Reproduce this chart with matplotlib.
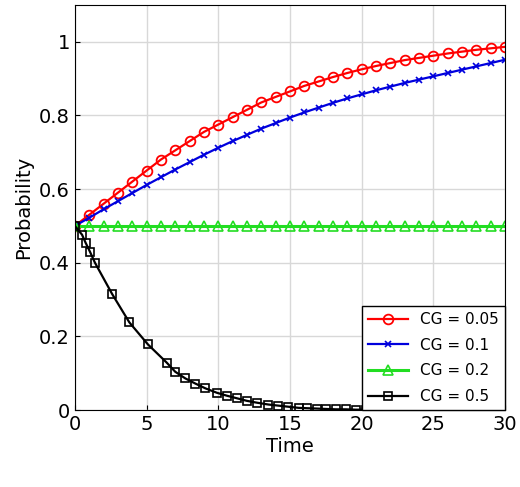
import matplotlib
matplotlib.use("Agg")
import matplotlib.pyplot as plt

t_int = list(range(31))
red = [0.5,0.53,0.56,0.59,0.62,0.65,0.68,0.705,0.73,0.755,0.775,0.795,0.815,0.835,0.85,0.865,0.88,0.892,0.904,0.915,0.925,0.934,0.942,0.95,0.956,0.962,0.968,0.973,0.978,0.982,0.986]
blue = [0.5,0.522,0.545,0.567,0.589,0.611,0.632,0.653,0.673,0.693,0.712,0.73,0.747,0.764,0.779,0.794,0.808,0.821,0.834,0.846,0.857,0.868,0.878,0.888,0.897,0.906,0.915,0.924,0.933,0.942,0.951]
green = [0.5]*31
t_black = [0,0.5,0.75,1.05,1.4,2.6,3.8,5.1,6.4,7.0,7.7,8.4,9.1,9.9,10.6,11.3,12.0,12.7,13.5,14.2,14.9,15.6,16.2,16.9,17.5,18.2,18.9,19.6,20.3,21.0,21.7,22.4,23.1,23.8,24.5,25.2,25.9,26.6,27.3,28.0,28.7,29.4,30.0]
black = [0.5,0.476,0.454,0.43,0.40,0.315,0.238,0.178,0.129,0.104,0.086,0.072,0.059,0.047,0.039,0.032,0.025,0.02,0.015,0.012,0.009,0.006,0.005,0.004,0.003,0.002,0.002,0.001,0.001,0.001,0.001,0,0,0,0,0,0,0,0,0,0,0,0]

fig = plt.figure(figsize=(5.2,4.87), dpi=100)
ax = fig.add_axes([0.144,0.158,0.827,0.832])
ax.plot(t_int, red, '-o', color='red', mfc='none', ms=7, lw=1.6, mew=1.3, label='CG = 0.05')
ax.plot(t_int, blue, '-x', color='#0000dd', ms=5, lw=1.6, mew=1.2, label='CG = 0.1')
ax.plot(t_int, green, '-^', color='#22dd22', mfc='none', ms=7, lw=2.2, mew=1.2, label='CG = 0.2')
ax.plot(t_black, black, '-s', color='black', mfc='none', ms=6, lw=1.6, mew=1.2, label='CG = 0.5')
ax.set_xlim(0,30); ax.set_ylim(0,1.1)
ax.set_xticks([0,5,10,15,20,25,30])
ax.set_yticks([0,0.2,0.4,0.6,0.8,1])
ax.set_yticklabels(['0','0.2','0.4','0.6','0.8','1'])
ax.tick_params(labelsize=14, direction='in')
ax.grid(True, color='#d8d8d8', lw=1)
ax.set_xlabel('Time', fontsize=14, labelpad=2)
ax.set_ylabel('Probability', fontsize=14)
leg = ax.legend(loc='lower right', fontsize=11, fancybox=False, edgecolor='black', framealpha=1, borderaxespad=0, handlelength=2.6, labelspacing=0.7)
leg.get_frame().set_linewidth(1)
fig.savefig('out.png')
